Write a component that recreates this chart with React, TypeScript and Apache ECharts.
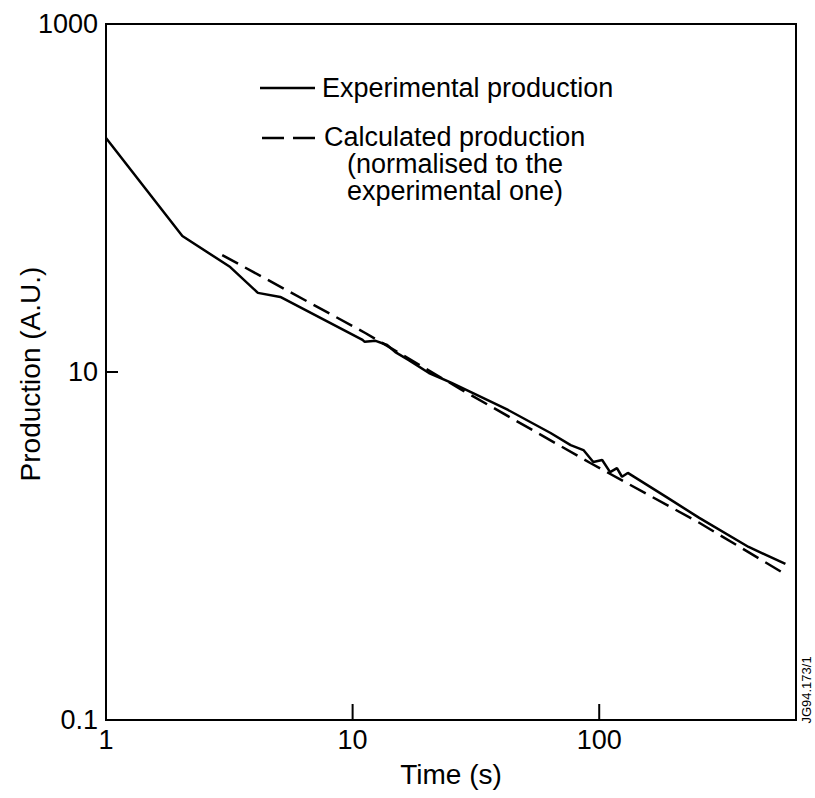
import React, { useEffect, useRef } from "react";
import * as echarts from "echarts";

// Experimental production (solid line)
const timeExp = [1, 2.04, 3.19, 4.13, 5.09, 10.97, 11.2, 12.4, 13.8, 14.9, 16.9, 20.4, 25.2, 42.7, 63.5, 76.6, 86.3, 94.6, 102.8, 110.7, 118, 123.7, 130.6, 187.5, 254.5, 403.6, 569];
const prodExp = [221, 60.5, 40.1, 28.5, 27, 15.3, 14.9, 15.1, 14.3, 13.0, 11.7, 9.87, 8.65, 6.05, 4.46, 3.8, 3.56, 3.04, 3.12, 2.66, 2.8, 2.5, 2.63, 1.91, 1.45, 0.987, 0.789];

// Calculated production (dashed line)
const timeCalc = [2.96, 11.3, 27.7, 92, 254.5, 548];
const prodCalc = [47, 16.7, 7.9, 3.0, 1.36, 0.71];

const xLabels = ["1", "10", "100"];
const yLabels = ["0.1", "10", "1000"];
const xTickValues = [10, 100];
const yTickValues = [10];

const legendMain = ["Experimental production", "Calculated production"];
const legendSub = ["(normalised to the", "experimental one)"];

const FONT = "Liberation Sans, Arial, Helvetica, sans-serif";

function fmtLog(v: number, allowed: string[]): string {
  const l = Math.log10(v);
  const e = Math.round(l);
  if (Math.abs(l - e) > 1e-6) return "";
  const s = e < 0 ? Math.pow(10, e).toFixed(-e) : String(Math.pow(10, e));
  return allowed.indexOf(s) >= 0 ? s : "";
}

export default function App() {
  const ref = useRef<HTMLDivElement>(null);
  useEffect(() => {
    if (!ref.current) return;
    const chart = echarts.init(ref.current, undefined, { renderer: "svg" });
    const expData = timeExp.map((t, i) => [t, prodExp[i]]);
    const calcData = timeCalc.map((t, i) => [t, prodCalc[i]]);
    const legendText = (text: string, x: number, y: number, align = "left") => ({
      type: "text",
      x,
      y,
      style: { text, font: `27px ${FONT}`, fill: "#000", verticalAlign: "middle", align },
    });
    chart.setOption({
      animation: false,
      backgroundColor: "#fff",
      textStyle: { fontFamily: FONT, color: "#000" },
      grid: {
        left: 106,
        top: 24,
        right: 19,
        bottom: 78,
        outerBoundsMode: "none",
        containLabel: false,
        show: true,
        borderColor: "#000",
        borderWidth: 2,
        backgroundColor: "transparent",
      },
      xAxis: {
        type: "log",
        logBase: 10,
        min: 1,
        max: 628,
        name: "Time (s)",
        nameLocation: "middle",
        nameGap: 40,
        nameTextStyle: { fontSize: 28, color: "#000", fontFamily: FONT },
        axisLine: { show: true, onZero: false, lineStyle: { color: "#000", width: 2 } },
        axisTick: { show: false },
        axisLabel: {
          color: "#000",
          fontSize: 27,
          fontFamily: FONT,
          margin: 6,
          showMaxLabel: false,
          formatter: (v: number) => fmtLog(v, xLabels),
        },
        splitLine: { show: false },
      },
      yAxis: {
        type: "log",
        logBase: 10,
        min: 0.1,
        max: 1000,
        axisLine: { show: true, onZero: false, lineStyle: { color: "#000", width: 2 } },
        axisTick: { show: false },
        axisLabel: {
          color: "#000",
          fontSize: 27,
          fontFamily: FONT,
          margin: 8,
          formatter: (v: number) => fmtLog(v, yLabels),
        },
        splitLine: { show: false },
      },
      series: [
        {
          name: legendMain[0],
          type: "line",
          data: expData,
          symbol: "none",
          lineStyle: { color: "#000", width: 2.5 },
        },
        {
          name: legendMain[1],
          type: "line",
          data: calcData,
          symbol: "none",
          lineStyle: { color: "#000", width: 2.5, type: [18, 8] },
        },
        {
          name: "xTicks",
          type: "custom",
          silent: true,
          clip: false,
          data: xTickValues.map((v) => [v, 0.1]),
          renderItem: (_p: any, api: any) => {
            const pt = api.coord([api.value(0), api.value(1)]);
            return {
              type: "line",
              shape: { x1: pt[0], y1: pt[1], x2: pt[0], y2: pt[1] - 16 },
              style: { stroke: "#000", lineWidth: 2 },
            };
          },
        },
        {
          name: "yTicks",
          type: "custom",
          silent: true,
          clip: false,
          data: yTickValues.map((v) => [1, v]),
          renderItem: (_p: any, api: any) => {
            const pt = api.coord([api.value(0), api.value(1)]);
            return {
              type: "line",
              shape: { x1: pt[0], y1: pt[1], x2: pt[0] + 12, y2: pt[1] },
              style: { stroke: "#000", lineWidth: 2 },
            };
          },
        },
      ],
      graphic: [
        {
          type: "line",
          shape: { x1: 260, y1: 88, x2: 315, y2: 88 },
          style: { stroke: "#000", lineWidth: 2.5 },
        },
        {
          type: "line",
          shape: { x1: 262, y1: 138, x2: 316, y2: 138 },
          style: { stroke: "#000", lineWidth: 2.5, lineDash: [22, 9] },
        },
        legendText(legendMain[0], 322, 88),
        legendText(legendMain[1], 324, 137),
        legendText(legendSub[0], 455, 164, "center"),
        legendText(legendSub[1], 455, 191, "center"),
        {
          type: "text",
          x: 30,
          y: 374,
          rotation: Math.PI / 2,
          style: { text: "Production (A.U.)", font: `28px ${FONT}`, fill: "#000", verticalAlign: "middle", align: "center" },
        },
        {
          type: "text",
          x: 806,
          y: 690,
          rotation: Math.PI / 2,
          style: { text: "JG94.173/1", font: `13px ${FONT}`, fill: "#000", verticalAlign: "middle", align: "center" },
        },
      ],
    });
    return () => chart.dispose();
  }, []);
  return (
    <div
      ref={ref}
      style={{ position: "fixed", left: 0, top: 0, width: 815, height: 798, background: "#fff" }}
    />
  );
}
